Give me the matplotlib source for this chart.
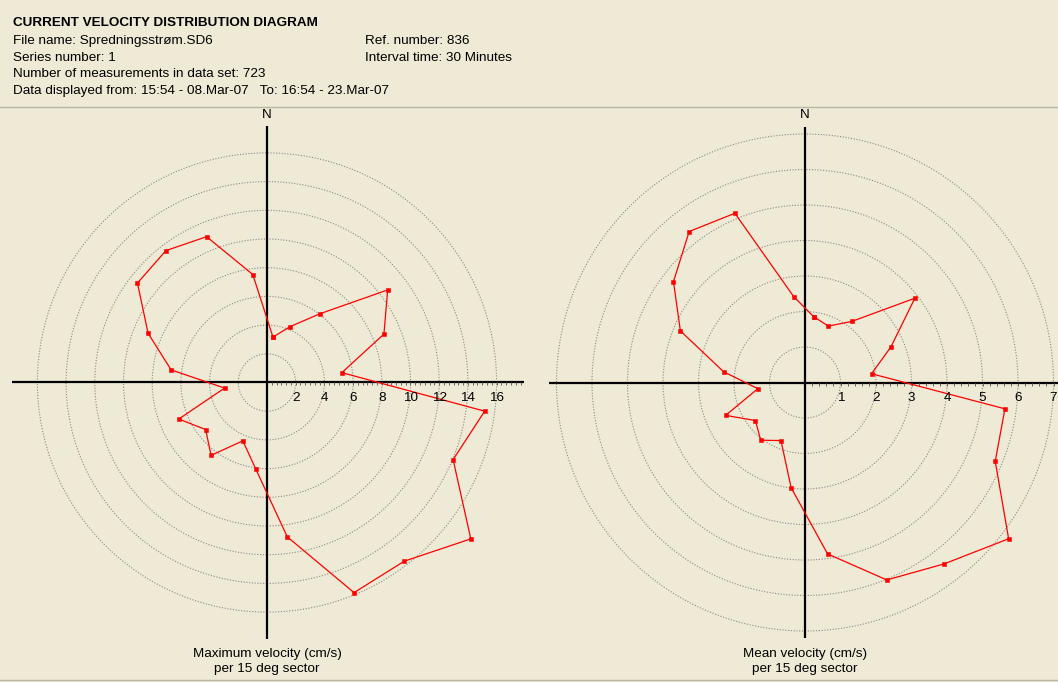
import numpy as np
import matplotlib
matplotlib.use('Agg')
import matplotlib.pyplot as plt
from matplotlib.patches import Circle

plt.rcParams['font.family'] = ['Liberation Sans', 'DejaVu Sans']

# maximum and mean velocity per 15 deg sector (sector centres 7.5, 22.5, ... deg)
sectors = 7.5 + 15 * np.arange(24)
max_vel = [3.19, 4.22, 6.03, 10.6, 8.82, 5.26, 15.3, 14.04, 17.9, 15.7, 15.85, 10.85,
           6.06, 4.4, 6.4, 5.39, 6.65, 2.98, 6.74, 8.97, 11.38, 11.58, 11.0, 7.59]
mean_vel = [1.87, 1.72, 2.17, 3.9, 2.62, 1.89, 5.68, 5.8, 7.23, 6.44, 6.02, 4.87,
            2.99, 1.77, 2.05, 1.76, 2.42, 1.34, 2.31, 3.8, 4.67, 5.36, 5.16, 2.44]
max_rings = [2, 4, 6, 8, 10, 12, 14, 16]
mean_rings = [1, 2, 3, 4, 5, 6, 7]

header_left = ["File name: Spredningsstrøm.SD6",
               "Series number: 1",
               "Number of measurements in data set: 723",
               "Data displayed from: 15:54 - 08.Mar-07   To: 16:54 - 23.Mar-07"]
header_right = ["Ref. number: 836", "Interval time: 30 Minutes"]

W, H = 1058, 682
bg = '#EEEAD5'
fs = 9.7

fig = plt.figure(figsize=(W / 100, H / 100), dpi=100)
fig.patch.set_facecolor(bg)

# header drawn in pixel coordinates
hdr = fig.add_axes([0, 0, 1, 1])
hdr.set_xlim(0, W)
hdr.set_ylim(H, 0)
hdr.axis('off')
hdr.text(13, 22.5, "CURRENT VELOCITY DISTRIBUTION DIAGRAM", fontsize=fs,
         fontweight='bold', va='center', ha='left')
for i, s in enumerate(header_left):
    hdr.text(13, 41 + i * 16.7, s, fontsize=fs, va='center', ha='left')
for i, s in enumerate(header_right):
    hdr.text(365, 41 + i * 16.7, s, fontsize=fs, va='center', ha='left')
hdr.plot([0, W], [107, 107], color='#b8b4a6', lw=1)
hdr.plot([0, W], [680, 680], color='#b8b4a6', lw=1)


def rose(cx, cy, scale, box, rings, values, ext_x, ext_y, tick_step, caption):
    x0, x1, y0, y1 = box
    ax = fig.add_axes([x0 / W, 1 - y1 / H, (x1 - x0) / W, (y1 - y0) / H])
    ax.set_xlim((x0 - cx) / scale, (x1 - cx) / scale)
    ax.set_ylim((cy - y1) / scale, (cy - y0) / scale)
    ax.axis('off')
    ax.patch.set_alpha(0)

    for r in rings:
        ax.add_patch(Circle((0, 0), r, fill=False, ec='#8a8a8a', lw=0.8,
                            ls=(0, (1, 1.5))))

    # crosshair
    ax.plot([ext_x[0], ext_x[1]], [0, 0], color='black', lw=1.6, solid_capstyle='butt')
    ax.plot([0, 0], [-ext_y, ext_y], color='black', lw=1.6, solid_capstyle='butt')
    ticks = np.arange(tick_step, ext_x[1], tick_step)
    ax.vlines(ticks, -3 / scale, 0, color='#666666', lw=0.7)
    for r in rings:
        ax.text(r, -15.5 / scale, str(r), fontsize=fs, ha='center', va='center')
    ax.text(0, ext_y + 11.5 / scale, 'N', fontsize=fs, ha='center', va='center')
    ax.text(0, -ext_y - 23 / scale, caption, fontsize=fs, ha='center', va='center',
            linespacing=1.32)

    th = np.deg2rad(sectors)
    v = np.asarray(values)
    x = np.append(v * np.sin(th), v[0] * np.sin(th[0]))
    y = np.append(v * np.cos(th), v[0] * np.cos(th[0]))
    ax.plot(x, y, color='#ff0000', lw=0.9, marker='s', ms=2.3, mec='#ff0000',
            mew=0.4, clip_on=False)
    return ax


rose(267, 382.5, 14.35, (6, 530, 108, 679), max_rings, max_vel,
     (-17.8, 17.9), 17.85, 1 / 3,
     "Maximum velocity (cm/s)\nper 15 deg sector")
rose(805, 382.5, 35.5, (535, 1058, 108, 679), mean_rings, mean_vel,
     (-7.2, 7.3), 7.2, 0.2,
     "Mean velocity (cm/s)\nper 15 deg sector")

fig.savefig('out.png', dpi=100, facecolor=bg)
